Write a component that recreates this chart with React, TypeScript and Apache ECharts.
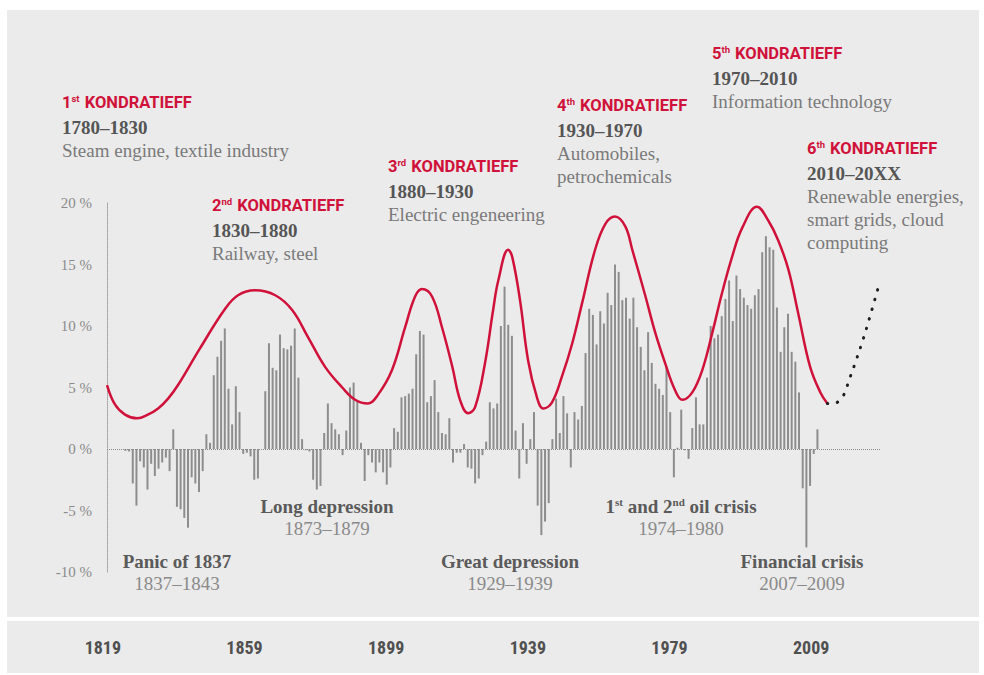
import React, { useEffect, useRef } from "react";
import * as echarts from "echarts";

// ---- data ----
const firstBarYear = 1819;
// yearly growth (%) bars, one per year starting at firstBarYear
const growth = [
  -0.15, -0.2, -2.8, -4.6, -1.0, -1.5, -3.3, -1.2, -2.2, -1.6, -1.1, -0.7, -1.8, 1.6, -4.7, -4.9, -5.6, -6.4, -2.3, -2.8, -3.5, -1.8, 1.2, 0.5,
  6.0, 7.5, 8.8, 9.8, 4.9, 2.0, 5.1, 3.0, -0.4, -0.3, -0.6, -2.5, -2.4, 0,
  4.7, 8.6, 6.6, 6.4, 9.3, 8.2, 8.1, 8.4, 9.8, 5.8, 0.8, -0.1, -0.2, -2.5, -3.3, -3.0, 1.3, 3.7, 2.1, 1.6, 1.2, -0.5, 1.5, 5.0, 5.4, 3.9, 0.5,
  -2.6, -0.5, -1.1, -1.9, -1.1, -1.9, -2.9, -1.5,
  1.7, 1.4, 4.2, 4.3, 4.5, 4.9, 7.7, 9.6, 9.3, 3.8, 4.3, 5.6, 3.0, 1.3, 1.2, 2.5, -1.1, -0.3, -0.3, 0.4, -1.5, -1.6, -2.8, -2.4, -0.5, 0.6, 3.8, 3.3, 3.7, 10.0, 13.2, 10.1, 9.2,
  1.5, -2.4, 2.1, -1.2, 0.8, 3.0, -4.6, -7.0, -5.9, -4.4, 0.8, 4.1, 1.3, 4.3, 2.9, -1.5, 3.0, 2.4, 3.5, 7.8, 11.4, 10.9, 8.5, 11.2, 10.2, 12.7, 11.7, 15.0, 14.4, 12.1, 12.3, 10.6, 12.3, 9.9, 8.3, 6.4, 9.5, 7.0,
  5.3, 4.9, 4.4, 6.7, 3.0, -2.3, 0.1, 3.2, -0.1, -0.8, 1.7, 4.2, 2.0, 2.0, 5.8, 10.0, 9.0, 9.3, 10.8, 12.2, 13.7, 10.4, 14.1, 13.0, 12.3, 11.7, 11.4, 12.5, 13.0, 16.0, 17.3, 16.4, 16.2, 11.5, 7.9, 9.9, 11.0, 7.9, 7.1, 4.6, -3.2, -8.0, -3.0, -0.4, 1.6,
];

// Kondratieff wave (red curve)
const curveYears = [
  1814.0, 1816.2, 1818.9, 1822.2, 1825.1, 1827.9, 1830.6, 1833.3, 1839.3, 1846.1, 1849.6, 1854.2, 1859.7, 1864.3, 1868.6, 1873.2, 1877.9, 1881.4,
  1884.9, 1887.6, 1891.4, 1895.0, 1897.7, 1899.6, 1902.3, 1905.0, 1907.8, 1909.9, 1912.1, 1914.0, 1916.7, 1918.9, 1920.3, 1923.0, 1924.1,
  1926.2, 1928.4, 1930.8, 1932.5, 1934.9, 1937.6, 1940.4, 1943.1, 1946.6, 1949.4, 1952.0, 1954.8, 1956.7, 1960.2, 1962.9, 1965.6, 1968.3,
  1970.3, 1973.0, 1975.7, 1978.4, 1981.1, 1983.8, 1986.6, 1990.6, 1993.6, 1996.3, 1999.1, 2001.8, 2005.0, 2007.8, 2009.7,
];
const curveValues = [
  5.2, 3.6, 2.8, 2.5, 2.8, 3.3, 4.1, 5.2, 8.2, 11.4, 12.5, 12.9, 12.5, 11.3, 9.1, 6.7, 5.0, 4.0,
  3.7, 4.4, 6.4, 9.9, 12.4, 13.0, 12.4, 9.9, 6.7, 4.0, 2.9, 3.4, 7.0, 11.3, 13.7, 16.2, 15.6,
  12.1, 7.2, 4.2, 3.3, 3.8, 5.9, 8.6, 11.9, 16.2, 18.3, 18.9, 18.1, 16.2, 12.5, 9.5, 7.0, 4.8,
  4.0, 4.6, 6.4, 9.4, 12.7, 15.6, 18.0, 19.7, 18.6, 17.0, 14.6, 11.0, 6.7, 4.6, 3.7,
];

// dotted outlook (6th wave)
const trendYears = [2009.7, 2011.3, 2013.5, 2014.8, 2015.6, 2017.5, 2019.4, 2021.1, 2023.5];
const trendValues = [3.7, 3.7, 4.1, 4.9, 5.6, 7.2, 8.9, 10.6, 13.1];

const bottomYearLabels = ["1819", "1859", "1899", "1939", "1979", "2009"];

const waves = [
  { ord: "1", sup: "st", span: "1780–1830", lines: ["Steam engine, textile industry"], x: 62, y: 102 },
  { ord: "2", sup: "nd", span: "1830–1880", lines: ["Railway, steel"], x: 212, y: 205 },
  { ord: "3", sup: "rd", span: "1880–1930", lines: ["Electric engeneering"], x: 388, y: 166 },
  { ord: "4", sup: "th", span: "1930–1970", lines: ["Automobiles,", "petrochemicals"], x: 557, y: 105 },
  { ord: "5", sup: "th", span: "1970–2010", lines: ["Information technology"], x: 712, y: 53 },
  { ord: "6", sup: "th", span: "2010–20XX", lines: ["Renewable energies,", "smart grids, cloud", "computing"], x: 807, y: 148 },
];

const crises = [
  { name: "Panic of 1837", span: "1837–1843", x: 177, y: 561 },
  { name: "Long depression", span: "1873–1879", x: 327, y: 506 },
  { name: "Great depression", span: "1929–1939", x: 510, y: 561 },
  { name: "oil", span: "1974–1980", x: 681, y: 506 },
  { name: "Financial crisis", span: "2007–2009", x: 802, y: 561 },
];

const SERIF = '"Liberation Serif", "DejaVu Serif", serif';
const SANS = 'Roboto, "Liberation Sans", sans-serif';
const COND = '"Liberation Sans Narrow", "Roboto Condensed", "DejaVu Sans Condensed", Roboto, "Liberation Sans", sans-serif';
const RED = "#d0123a";
const SERIF_SIZE = 19;

function buildGraphics() {
  const g: any[] = [
    { type: "rect", z: -10, silent: true, shape: { x: 7, y: 10, width: 972, height: 607 }, style: { fill: "#ebebeb" } },
    { type: "rect", z: -10, silent: true, shape: { x: 7, y: 621, width: 972, height: 52 }, style: { fill: "#ebebeb" } },
  ];
  waves.forEach((w) => {
    g.push({
      type: "text",
      x: w.x,
      y: w.y,
      z: 10,
      style: {
        text: `{t|${w.ord}}{s|${w.sup}}{t| KONDRATIEFF}`,
        verticalAlign: "middle",
        align: "left",
        rich: {
          t: { fontFamily: SANS, fontWeight: "bold", fontSize: 16.5, fill: RED, lineHeight: 18 },
          s: { fontFamily: SANS, fontWeight: "bold", fontSize: 9.5, fill: RED, lineHeight: 18, verticalAlign: "top", padding: [0, 1, 0, 0] },
        },
      },
    });
    g.push({
      type: "text",
      x: w.x,
      y: w.y + 25,
      z: 10,
      style: { text: w.span, fontFamily: SERIF, fontWeight: "bold", fontSize: SERIF_SIZE, fill: "#555555", verticalAlign: "middle", align: "left" },
    });
    w.lines.forEach((ln, i) => {
      g.push({
        type: "text",
        x: w.x,
        y: w.y + 48 + i * 23,
        z: 10,
        style: { text: ln, fontFamily: SERIF, fontSize: SERIF_SIZE, fill: "#7a7a7a", verticalAlign: "middle", align: "left" },
      });
    });
  });
  crises.forEach((c) => {
    const nameStyle: any =
      c.name === "oil"
        ? {
            text: "{n|1}{s|st}{n| and 2}{s|nd}{n| oil crisis}",
            rich: {
              n: { fontFamily: SERIF, fontWeight: "bold", fontSize: SERIF_SIZE, fill: "#5a5a5a", lineHeight: 20 },
              s: { fontFamily: SERIF, fontWeight: "bold", fontSize: 11, fill: "#5a5a5a", lineHeight: 20, verticalAlign: "top" },
            },
          }
        : { text: c.name, fontFamily: SERIF, fontWeight: "bold", fontSize: SERIF_SIZE, fill: "#5a5a5a" };
    g.push({
      type: "text",
      x: c.x,
      y: c.y,
      z: 10,
      style: { ...nameStyle, verticalAlign: "middle", align: "center" },
    });
    g.push({
      type: "text",
      x: c.x,
      y: c.y + 22,
      z: 10,
      style: { text: c.span, fontFamily: SERIF, fontSize: SERIF_SIZE, fill: "#8a8a8a", verticalAlign: "middle", align: "center" },
    });
  });
  return g;
}

export default function App() {
  const ref = useRef<HTMLDivElement>(null);
  useEffect(() => {
    if (!ref.current) return;
    const chart = echarts.init(ref.current, undefined, { renderer: "svg" });
    const barData = growth.map((v, i) => [firstBarYear + i, v]);
    const curveData = curveYears.map((x, i) => [x, curveValues[i]]);
    const trendData = trendYears.map((x, i) => [x, trendValues[i]]);
    chart.setOption({
      animation: false,
      backgroundColor: "#ffffff",
      grid: [
        { left: 107, right: 104, top: 203, bottom: 103 },
        { left: 32, right: 102, top: 636, height: 1 },
      ],
      xAxis: [
        {
          type: "value",
          gridIndex: 0,
          min: 1814,
          max: 2024,
          axisLine: { show: false },
          axisTick: { show: false },
          axisLabel: { show: false },
          splitLine: { show: false },
        },
        {
          type: "category",
          gridIndex: 1,
          data: bottomYearLabels,
          axisLine: { show: false },
          axisTick: { show: false },
          axisLabel: { fontFamily: COND, fontWeight: "bold", fontSize: 18, color: "#505050", margin: 1 },
        },
      ],
      yAxis: [
        {
          type: "value",
          gridIndex: 0,
          min: -10,
          max: 20,
          interval: 5,
          axisLine: { show: true, lineStyle: { type: "dotted", color: "#a0a0a0", width: 1 } },
          axisTick: { show: false },
          splitLine: { show: false },
          axisLabel: { formatter: "{value} %", fontFamily: SERIF, fontSize: 15, color: "#8a8a8a", margin: 15 },
        },
        { type: "value", gridIndex: 1, show: false },
      ],
      series: [
        {
          type: "bar",
          xAxisIndex: 0,
          yAxisIndex: 0,
          data: barData,
          barWidth: 2,
          itemStyle: { color: "#8d8d8d" },
          z: 2,
          markLine: {
            silent: true,
            symbol: "none",
            label: { show: false },
            lineStyle: { type: "dotted", color: "#8a8a8a", width: 1 },
            data: [{ yAxis: 0 }],
          },
        },
        {
          type: "line",
          xAxisIndex: 0,
          yAxisIndex: 0,
          data: curveData,
          smooth: 0.4,
          symbol: "none",
          lineStyle: { color: RED, width: 2.5 },
          z: 4,
        },
        {
          type: "line",
          xAxisIndex: 0,
          yAxisIndex: 0,
          data: trendData,
          smooth: 0.4,
          symbol: "none",
          lineStyle: { color: "#1e1e1e", width: 3, type: [0.5, 9.5], cap: "round" },
          z: 4,
        },
      ],
      graphic: buildGraphics(),
    });
    return () => chart.dispose();
  }, []);
  return <div ref={ref} style={{ position: "fixed", left: 0, top: 0, width: 984, height: 675 }} />;
}
